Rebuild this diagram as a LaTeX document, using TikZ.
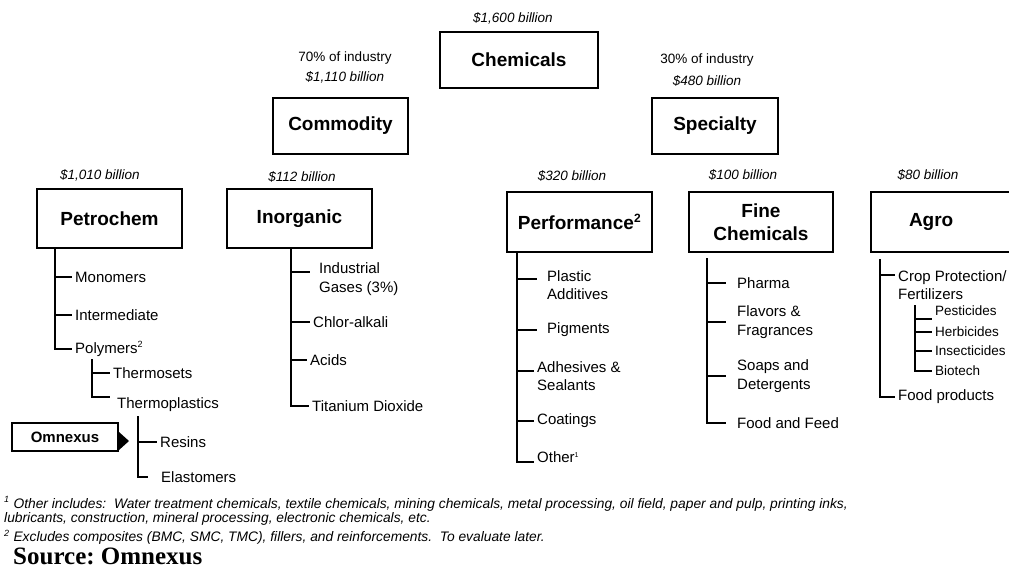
\documentclass[tikz,border=0pt]{standalone}
\usepackage{fontspec}
\setmainfont{Liberation Sans}
\newfontfamily\srcfont{Liberation Serif}
\usetikzlibrary{positioning, calc}

\begin{document}
\begin{tikzpicture}[x=1pt, y=-1pt,
    box/.style={rectangle, draw, line width=2pt, align=center, inner sep=2pt,
      font=\fontsize{19}{23}\selectfont\bfseries},
    val/.style={font=\fontsize{13.5}{16}\selectfont\itshape, inner sep=1pt},
    pct/.style={font=\fontsize{13.5}{16}\selectfont, inner sep=1pt},
    item/.style={anchor=west, align=left, inner xsep=3pt, inner ysep=1pt,
      font=\fontsize{15}{18.5}\selectfont},
    subitem/.style={item, font=\fontsize{13.5}{16}\selectfont},
    tree/.style={line width=1.8pt},
    note/.style={anchor=west, align=left, inner sep=0pt,
      font=\fontsize{13.8}{14.5}\selectfont\itshape}]
  \useasboundingbox (0,0) rectangle (1009,579);

  % top levels
  \node[box, minimum width=158, minimum height=56] (chem) at (519,60) {Chemicals};
  \node[val] (chemval) at (513,18) {\$1,600 billion};

  \node[box, minimum width=135, minimum height=56] (comm) at (340.5,126) {Commodity};
  \node[pct] (commpct) at (345,58) {70\% of industry};
  \node[val] (commval) at (345,77) {\$1,110 billion};

  \node[box, minimum width=126, minimum height=56] (spec) at (715,126) {Specialty};
  \node[pct] (specpct) at (707,60) {30\% of industry};
  \node[val] (specval) at (707,81) {\$480 billion};

  % segments
  \node[box, minimum width=145, minimum height=59] (petro) at (109.5,218.5) {Petrochem};
  \node[val] (petroval) at (100,175) {\$1,010 billion};
  \node[box, minimum width=145, minimum height=59] (inorg) at (299.5,218.5) {Inorganic};
  \node[val] (inorgval) at (302,177) {\$112 billion};
  \node[box, minimum width=145, minimum height=60] (perf) at (579.5,222) {Performance\textsuperscript{\fontsize{12}{12}\selectfont 2}};
  \node[val] (perfval) at (572,176) {\$320 billion};
  \node[box, minimum width=144, minimum height=60] (fine) at (761,222) {Fine\\Chemicals};
  \node[val] (fineval) at (743,175) {\$100 billion};
  \node[box, anchor=west, minimum height=60, text width=69, inner xsep=38, align=left] (agro) at (870,222) {Agro};
  \node[val] (agroval) at (928,175) {\$80 billion};

  % petrochem tree
  \coordinate (pv) at ([xshift=19pt]petro.south west);
  \node[item] (mono) at (72,277) {Monomers};
  \node[item] (inter) at (72,315) {Intermediate};
  \node[item] (poly) at (72,349) {Polymers\textsuperscript{\fontsize{9}{9}\selectfont 2}};
  \draw[tree] (pv) |- (poly.west);
  \draw[tree] (pv |- mono.west) -- (mono.west);
  \draw[tree] (pv |- inter.west) -- (inter.west);

  \coordinate (polyv) at (92,359);
  \node[item] (tset) at (110,373) {Thermosets};
  \node[item] (tplast) at (114,405) {Thermoplastics};
  \draw[tree] (polyv) |- ([xshift=-4pt,yshift=8pt]tplast.west);
  \draw[tree] (polyv |- tset.west) -- (tset.west);

  \coordinate (tplastv) at (138,416);
  \node[item] (resin) at (157,442) {Resins};
  \node[item] (elast) at (158,477) {Elastomers};
  \draw[tree] (tplastv) |- ([xshift=-10pt]elast.west);
  \draw[tree] (tplastv |- resin.west) -- (resin.west);

  \node[box, minimum width=106, minimum height=28, inner sep=1pt,
    font=\fontsize{15}{18}\selectfont\bfseries] (omx) at (65,437) {Omnexus};
  \fill ([yshift=5pt]omx.east) -- ([xshift=10pt,yshift=-4pt]omx.east)
    -- ([yshift=-13pt]omx.east) -- cycle;

  % inorganic tree
  \coordinate (iv) at ([xshift=65pt]inorg.south west);
  \node[item] (gas) at (316,279) {Industrial\\Gases (3\%)};
  \node[item] (chlor) at (310,322) {Chlor-alkali};
  \node[item] (acid) at (307,360) {Acids};
  \node[item] (tio) at (309,406) {Titanium Dioxide};
  \draw[tree] (iv) |- (tio.west);
  \draw[tree] (iv |- 0,272) -- ([xshift=-6pt,yshift=7pt]gas.west);
  \draw[tree] (iv |- chlor.west) -- (chlor.west);
  \draw[tree] (iv |- acid.west) -- (acid.west);

  % performance tree
  \coordinate (perfv) at ([xshift=11pt]perf.south west);
  \node[item] (plast) at (544,285) {Plastic\\Additives};
  \node[item] (pigm) at (544,330) {Pigments};
  \node[item] (adhes) at (534,376) {Adhesives \&\\Sealants};
  \node[item] (coat) at (534,421) {Coatings};
  \node[item] (other) at (534,457) {Other\textsuperscript{\fontsize{7}{7}\selectfont 1}};
  \draw[tree] (perfv) |- ([yshift=-5pt]other.west);
  \draw[tree] (perfv |- 0,279) -- ([xshift=-7pt,yshift=6pt]plast.west);
  \draw[tree] (perfv |- pigm.west) -- ([xshift=-7pt]pigm.west);
  \draw[tree] (perfv |- 0,371) -- ([yshift=5pt]adhes.west);
  \draw[tree] (perfv |- coat.west) -- (coat.west);

  % fine chemicals tree
  \coordinate (finev) at ([xshift=19pt,yshift=-5pt]fine.south west);
  \node[item] (pharma) at (734,283) {Pharma};
  \node[item] (flav) at (734,322) {Flavors \&\\Fragrances};
  \node[item] (soap) at (734,376) {Soaps and\\Detergents};
  \node[item] (feed) at (734,423) {Food and Feed};
  \draw[tree] (finev) |- ([xshift=-8pt]feed.west);
  \draw[tree] (finev |- pharma.west) -- ([xshift=-8pt]pharma.west);
  \draw[tree] (finev |- flav.west) -- ([xshift=-8pt]flav.west);
  \draw[tree] (finev |- soap.west) -- ([xshift=-8pt]soap.west);

  % agro tree
  \coordinate (agrov) at ([xshift=10pt,yshift=-6pt]agro.south west);
  \node[item] (crop) at (895,285) {Crop Protection/\\Fertilizers};
  \node[item] (fprod) at (895,397) {Food products};
  \draw[tree] (agrov) |- (fprod.west);
  \draw[tree] (agrov |- 0,275) -- ([yshift=10pt]crop.west);

  \coordinate (cropv) at (915,305);
  \node[subitem] (pest) at (932,311) {Pesticides};
  \node[subitem] (herb) at (932,332) {Herbicides};
  \node[subitem] (insect) at (932,351) {Insecticides};
  \node[subitem] (bio) at (932,371) {Biotech};
  \draw[tree] (cropv) |- (bio.west);
  \draw[tree] (cropv |- 0,319) -- ([yshift=-8pt]pest.west);
  \draw[tree] (cropv |- herb.west) -- (herb.west);
  \draw[tree] (cropv |- insect.west) -- (insect.west);

  % footnotes
  \node[note] (fn1) at (4,511) {\textsuperscript{\fontsize{9}{9}\selectfont 1} Other includes:\ \ Water treatment chemicals, textile chemicals, mining chemicals, metal processing, oil field, paper and pulp, printing inks,\\lubricants, construction, mineral processing, electronic chemicals, etc.};
  \node[note] (fn2) at (4,537) {\textsuperscript{\fontsize{9}{9}\selectfont 2} Excludes composites (BMC, SMC, TMC), fillers, and reinforcements.\ \ To evaluate later.};
  \node[anchor=west, inner sep=0pt, font=\fontsize{25}{28}\srcfont\bfseries] (src) at (13,556) {Source:\ Omnexus};
\end{tikzpicture}
\end{document}
